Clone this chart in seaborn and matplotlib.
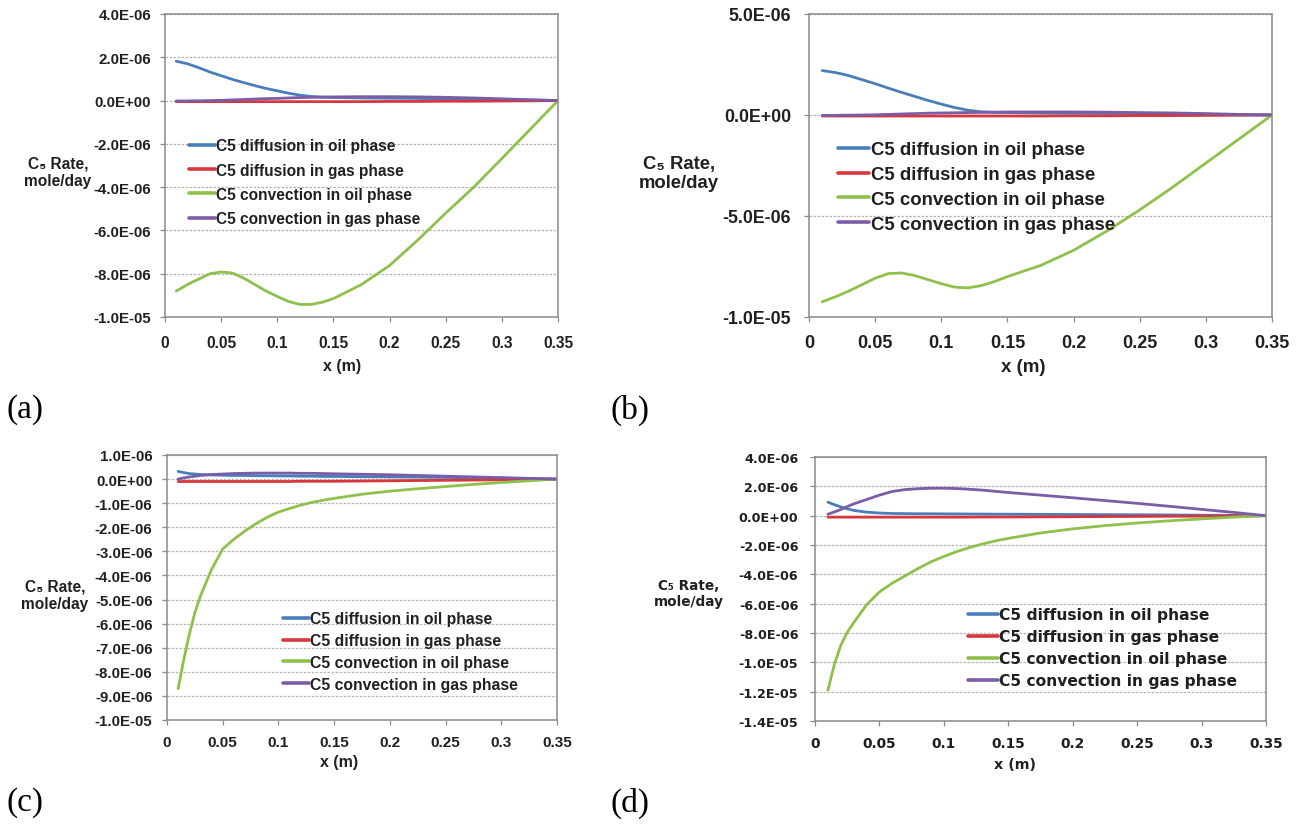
import numpy as np
import pandas as pd
import matplotlib
matplotlib.use("Agg")
import matplotlib.pyplot as plt
import seaborn as sns

# ---------------- data (rates in units of 1E-06 mole/day) ----------------
X = [0.01, 0.015, 0.02, 0.025, 0.03, 0.04, 0.05, 0.06, 0.07, 0.08, 0.09, 0.10,
     0.11, 0.12, 0.13, 0.14, 0.15, 0.175, 0.2, 0.225, 0.25, 0.275, 0.3, 0.325, 0.35]

SERIES = ["C5 diffusion in oil phase", "C5 diffusion in gas phase",
          "C5 convection in oil phase", "C5 convection in gas phase"]

# panel (a)
a_diff_oil = [1.82, 1.76, 1.70, 1.61, 1.52, 1.32, 1.15, 0.98, 0.83, 0.69, 0.56, 0.45,
              0.34, 0.25, 0.19, 0.16, 0.14, 0.12, 0.11, 0.10, 0.08, 0.06, 0.04, 0.02, 0.0]
a_diff_gas = [-0.05, -0.05, -0.05, -0.05, -0.05, -0.05, -0.05, -0.05, -0.05, -0.05, -0.05, -0.05,
              -0.05, -0.05, -0.05, -0.05, -0.05, -0.05, -0.04, -0.04, -0.03, -0.03, -0.02, -0.01, 0.0]
a_conv_oil = [-8.80, -8.65, -8.50, -8.37, -8.25, -8.00, -7.92, -7.97, -8.20, -8.50, -8.80, -9.05,
              -9.28, -9.42, -9.42, -9.32, -9.15, -8.50, -7.62, -6.45, -5.20, -4.00, -2.68, -1.34, 0.0]
a_conv_gas = [-0.02, -0.02, -0.02, -0.01, -0.01, 0.0, 0.01, 0.03, 0.05, 0.07, 0.09, 0.10,
              0.12, 0.14, 0.15, 0.16, 0.17, 0.18, 0.18, 0.17, 0.15, 0.12, 0.08, 0.04, 0.0]

# panel (b)
b_diff_oil = [2.20, 2.15, 2.10, 2.03, 1.95, 1.75, 1.55, 1.33, 1.12, 0.92, 0.72, 0.54,
              0.37, 0.24, 0.16, 0.13, 0.12, 0.10, 0.09, 0.08, 0.07, 0.05, 0.03, 0.015, 0.0]
b_diff_gas = [-0.05, -0.05, -0.05, -0.05, -0.05, -0.05, -0.05, -0.05, -0.05, -0.05, -0.05, -0.05,
              -0.05, -0.05, -0.05, -0.05, -0.05, -0.05, -0.04, -0.04, -0.03, -0.03, -0.02, -0.01, 0.0]
b_conv_oil = [-9.25, -9.12, -9.00, -8.86, -8.72, -8.40, -8.08, -7.85, -7.82, -7.95, -8.15, -8.35,
              -8.52, -8.56, -8.45, -8.25, -8.00, -7.45, -6.70, -5.75, -4.70, -3.57, -2.38, -1.19, 0.0]
b_conv_gas = [-0.02, -0.02, -0.02, -0.01, -0.01, 0.0, 0.01, 0.03, 0.05, 0.07, 0.09, 0.10,
              0.11, 0.12, 0.13, 0.14, 0.15, 0.15, 0.15, 0.14, 0.12, 0.10, 0.07, 0.03, 0.0]

# panel (c)
c_diff_oil = [0.32, 0.27, 0.23, 0.21, 0.19, 0.17, 0.16, 0.15, 0.15, 0.14, 0.14, 0.13,
              0.13, 0.12, 0.12, 0.11, 0.11, 0.10, 0.09, 0.08, 0.07, 0.05, 0.04, 0.02, 0.0]
c_diff_gas = [-0.10, -0.10, -0.10, -0.10, -0.10, -0.10, -0.10, -0.10, -0.10, -0.10, -0.10, -0.10,
              -0.10, -0.09, -0.09, -0.09, -0.09, -0.08, -0.07, -0.06, -0.05, -0.04, -0.03, -0.02, 0.0]
c_conv_oil = [-8.70, -7.50, -6.45, -5.55, -4.85, -3.75, -2.90, -2.50, -2.15, -1.85, -1.58, -1.37,
              -1.22, -1.08, -0.97, -0.88, -0.80, -0.63, -0.50, -0.40, -0.31, -0.22, -0.14, -0.07, 0.0]
c_conv_gas = [0.00, 0.05, 0.09, 0.12, 0.15, 0.19, 0.21, 0.23, 0.24, 0.25, 0.25, 0.25,
              0.25, 0.24, 0.24, 0.23, 0.22, 0.20, 0.18, 0.15, 0.12, 0.09, 0.06, 0.03, 0.0]

# panel (d)
d_diff_oil = [0.92, 0.75, 0.60, 0.47, 0.36, 0.24, 0.18, 0.15, 0.14, 0.13, 0.13, 0.12,
              0.12, 0.11, 0.11, 0.10, 0.10, 0.09, 0.08, 0.07, 0.06, 0.05, 0.03, 0.02, 0.0]
d_diff_gas = [-0.10, -0.10, -0.10, -0.10, -0.10, -0.10, -0.10, -0.10, -0.10, -0.10, -0.10, -0.10,
              -0.10, -0.10, -0.09, -0.09, -0.09, -0.08, -0.07, -0.06, -0.05, -0.04, -0.03, -0.02, 0.0]
d_conv_oil = [-11.90, -10.15, -8.85, -7.95, -7.30, -6.08, -5.20, -4.60, -4.10, -3.60, -3.15, -2.78,
              -2.45, -2.17, -1.93, -1.72, -1.55, -1.18, -0.90, -0.68, -0.50, -0.35, -0.22, -0.10, 0.0]
d_conv_gas = [0.10, 0.25, 0.42, 0.62, 0.80, 1.10, 1.40, 1.65, 1.78, 1.84, 1.87, 1.87,
              1.85, 1.80, 1.74, 1.66, 1.58, 1.40, 1.22, 1.03, 0.84, 0.64, 0.43, 0.22, 0.0]

PANELS = {
    "a": [a_diff_oil, a_diff_gas, a_conv_oil, a_conv_gas],
    "b": [b_diff_oil, b_diff_gas, b_conv_oil, b_conv_gas],
    "c": [c_diff_oil, c_diff_gas, c_conv_oil, c_conv_gas],
    "d": [d_diff_oil, d_diff_gas, d_conv_oil, d_conv_gas],
}
Y_TICKS = {
    "a": [4, 2, 0, -2, -4, -6, -8, -10],
    "b": [5, 0, -5, -10],
    "c": [1, 0, -1, -2, -3, -4, -5, -6, -7, -8, -9, -10],
    "d": [4, 2, 0, -2, -4, -6, -8, -10, -12, -14],
}
X_TICKS = [0, 0.05, 0.1, 0.15, 0.2, 0.25, 0.3, 0.35]
X_TICK_LABELS = ["0", "0.05", "0.1", "0.15", "0.2", "0.25", "0.3", "0.35"]
SCALE = 1e-6

# ---------------- style ----------------
sns.set_theme(style="white")
plt.rcParams["font.family"] = ["Liberation Sans", "DejaVu Sans"]

COLORS = ["#4A7EBB", "#D6363C", "#8FC04C", "#7B5CA6"]
palette = dict(zip(SERIES, COLORS))

fig = plt.figure(figsize=(12.98, 8.28), dpi=100)
W, H = 1298, 828

def fr(l, t, r, b):
    return [l / W, 1 - b / H, (r - l) / W, (b - t) / H]

ARIAL = ["Liberation Sans", "DejaVu Sans"]
WIDE = ["DejaVu Sans"]

layout = {
    "a": dict(box=(165, 15, 558, 318), fam=ARIAL, ytick_fs=10.8, xtick_fs=11.2, ypad=6.5, xpad=9.5,
              leg_fs=11.2, leg_anchor=(0.06, 0.59), lab_sp=0.6, hlen=1.7,
              ylab=(58, 173), ylab_fs=11.2, xlab=(342, 367), xlab_fs=11.5, plab=(7, 410)),
    "b": dict(box=(809, 15, 1272, 318), fam=ARIAL, ytick_fs=12.8, xtick_fs=13, ypad=9.4, xpad=9,
              leg_fs=13.4, leg_anchor=(0.062, 0.58), lab_sp=0.42, hlen=1.7,
              ylab=(679, 174), ylab_fs=13.3, xlab=(1023, 368), xlab_fs=13.5, plab=(611, 410)),
    "c": dict(box=(167, 456, 557, 721), fam=ARIAL, ytick_fs=10.8, xtick_fs=11, ypad=7, xpad=7,
              leg_fs=11.3, leg_anchor=(0.298, 0.41), lab_sp=0.43, hlen=1.65,
              ylab=(55, 596), ylab_fs=11.2, xlab=(339, 763), xlab_fs=11.5, plab=(7, 803)),
    "d": dict(box=(815, 458, 1266, 722), fam=WIDE, ytick_fs=9.2, xtick_fs=9.9, ypad=8.5, xpad=7,
              leg_fs=11.2, leg_anchor=(0.34, 0.432), lab_sp=0.45, hlen=1.9,
              ylab=(689, 594), ylab_fs=9.8, xlab=(1015, 765), xlab_fs=10.3, plab=(611, 803)),
}

TXT = "#202020"
SPINE = "#8a8a8a"

for key, series_vals in PANELS.items():
    L = layout[key]
    fam = L["fam"]
    ax = fig.add_axes(fr(*L["box"]))
    rows = []
    for name, vals in zip(SERIES, series_vals):
        for xv, yv in zip(X, vals):
            rows.append({"x": xv, "y": yv * SCALE, "series": name})
    df = pd.DataFrame(rows)
    sns.lineplot(data=df, x="x", y="y", hue="series", hue_order=SERIES,
                 palette=palette, linewidth=2.0, ax=ax, legend=True)

    yt = [v * SCALE for v in Y_TICKS[key]]
    ax.set_ylim(min(yt), max(yt))
    ax.set_yticks(yt)
    ax.set_yticklabels(["{:.1E}".format(v) for v in yt])
    ax.set_xlim(0, 0.35)
    ax.set_xticks(X_TICKS)
    ax.set_xticklabels(X_TICK_LABELS)
    for lab in ax.get_yticklabels():
        lab.set_fontweight("bold"); lab.set_fontsize(L["ytick_fs"])
        lab.set_color(TXT); lab.set_family(fam)
    for lab in ax.get_xticklabels():
        lab.set_fontweight("bold"); lab.set_fontsize(L["xtick_fs"])
        lab.set_color(TXT); lab.set_family(fam)
    ax.tick_params(axis="both", direction="out", length=3.5, width=0.9, color=SPINE,
                   bottom=True, left=True)
    ax.tick_params(axis="y", pad=L["ypad"])
    ax.tick_params(axis="x", pad=L["xpad"])
    ax.grid(axis="y", color="#b4b4b4", linestyle=(0, (2, 1.2)), linewidth=0.9)
    ax.set_axisbelow(True)
    for s in ax.spines.values():
        s.set_color(SPINE)
        s.set_linewidth(1.1)
    ax.set_xlabel("")
    ax.set_ylabel("")

    handles, labels = ax.get_legend_handles_labels()
    ax.legend(handles, labels, loc="upper left", bbox_to_anchor=L["leg_anchor"],
              frameon=False, prop={"weight": "bold", "size": L["leg_fs"], "family": fam},
              handlelength=L["hlen"], handletextpad=0.08, labelspacing=L["lab_sp"],
              borderpad=0.0, borderaxespad=0.0)
    for t in ax.get_legend().get_texts():
        t.set_color(TXT)
    for ln in ax.get_legend().get_lines():
        ln.set_linewidth(2.6)

    fig.text(L["xlab"][0] / W, 1 - L["xlab"][1] / H, "x (m)", ha="center", va="center",
             fontsize=L["xlab_fs"], fontweight="bold", color=TXT, family=fam)
    fig.text(L["ylab"][0] / W, 1 - L["ylab"][1] / H, "C\u2085 Rate,\nmole/day",
             ha="center", va="center", fontsize=L["ylab_fs"], fontweight="bold",
             color=TXT, linespacing=1.2, family=fam)
    fig.text(L["plab"][0] / W, 1 - L["plab"][1] / H, "(%s)" % key, ha="left", va="center",
             fontsize=24, family=["Liberation Serif", "DejaVu Serif"], color="black")

fig.savefig("out.png", dpi=100, facecolor="white")
